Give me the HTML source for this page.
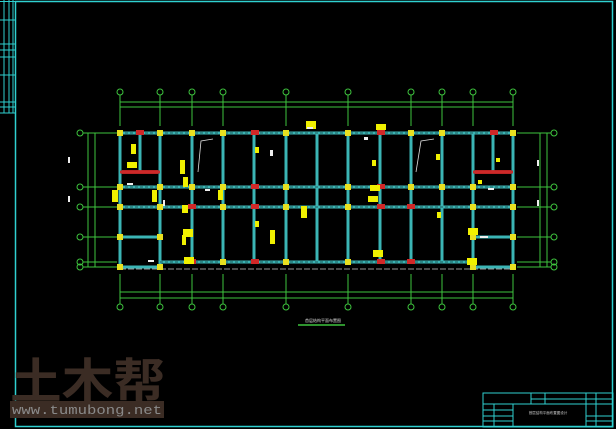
<!DOCTYPE html>
<html><head><meta charset="utf-8"><style>
html,body{margin:0;padding:0;background:#000;width:616px;height:429px;overflow:hidden}
svg{display:block}
</style></head><body>
<svg width="616" height="429" viewBox="0 0 616 429" xmlns="http://www.w3.org/2000/svg" font-family="Liberation Sans, Noto Sans CJK SC, sans-serif">
<rect width="616" height="429" fill="#000"/>
<!-- frame -->
<g stroke="#2fd0d0" fill="none">
<rect x="15.5" y="1.5" width="597" height="425" stroke-width="1.5"/>
<line x1="0" y1="1.5" x2="16" y2="1.5"/>
<line x1="4" y1="0" x2="4" y2="113"/><line x1="9" y1="0" x2="9" y2="113"/><line x1="13" y1="0" x2="13" y2="113"/>
<line x1="0" y1="20" x2="16" y2="20"/><line x1="0" y1="44" x2="16" y2="44"/><line x1="0" y1="50" x2="16" y2="50"/>
<line x1="0" y1="57" x2="16" y2="57"/><line x1="0" y1="75" x2="16" y2="75"/><line x1="0" y1="102" x2="16" y2="102"/>
<line x1="0" y1="107" x2="16" y2="107"/><line x1="0" y1="113" x2="16" y2="113"/>
<!-- title block -->
<rect x="483" y="393" width="130" height="34"/>
<line x1="483" y1="404" x2="613" y2="404"/>
<line x1="531" y1="393" x2="531" y2="404"/><line x1="545" y1="393" x2="545" y2="404"/>
<line x1="531" y1="399" x2="613" y2="399"/>
<line x1="586" y1="393" x2="586" y2="427"/><line x1="596" y1="393" x2="596" y2="427"/>
<line x1="494" y1="404" x2="494" y2="427"/><line x1="513" y1="404" x2="513" y2="427"/>
<line x1="483" y1="410" x2="513" y2="410"/><line x1="483" y1="416" x2="513" y2="416"/><line x1="483" y1="421" x2="513" y2="421"/>
<line x1="586" y1="416" x2="613" y2="416"/><line x1="586" y1="421" x2="613" y2="421"/>
</g>
<text x="548" y="414" font-size="3.5" fill="#ccc" text-anchor="middle">首层结构平面布置图设计</text>
<!-- watermark -->
<text x="10" y="398" font-size="48" font-weight="bold" fill="#3b2c24" font-family="Noto Sans CJK SC, sans-serif" textLength="155" lengthAdjust="spacingAndGlyphs">土木帮</text>
<rect x="10" y="401" width="154" height="17" fill="#3b2c24"/>
<text x="12" y="414" font-size="12.5" fill="#8a8a8a" font-family="Liberation Mono, monospace" textLength="150" lengthAdjust="spacingAndGlyphs">www.tumubong.net</text>
<!-- dimension lines -->
<g stroke="#3ec43e" stroke-width="1" fill="none">
<line x1="120" y1="102" x2="513" y2="102"/><line x1="120" y1="107" x2="513" y2="107"/>
<line x1="120" y1="292" x2="513" y2="292"/><line x1="120" y1="298" x2="513" y2="298"/>
<line x1="88" y1="133" x2="88" y2="267"/><line x1="95" y1="133" x2="95" y2="267"/>
<line x1="540" y1="133" x2="540" y2="267"/><line x1="547" y1="133" x2="547" y2="267"/>
<g>
<line x1="120" y1="95" x2="120" y2="126"/><line x1="160" y1="95" x2="160" y2="126"/><line x1="192" y1="95" x2="192" y2="126"/><line x1="223" y1="95" x2="223" y2="126"/><line x1="286" y1="95" x2="286" y2="126"/><line x1="348" y1="95" x2="348" y2="126"/><line x1="411" y1="95" x2="411" y2="126"/><line x1="442" y1="95" x2="442" y2="126"/><line x1="473" y1="95" x2="473" y2="126"/><line x1="513" y1="95" x2="513" y2="126"/>
<line x1="120" y1="274" x2="120" y2="304"/><line x1="160" y1="274" x2="160" y2="304"/><line x1="192" y1="274" x2="192" y2="304"/><line x1="223" y1="274" x2="223" y2="304"/><line x1="286" y1="274" x2="286" y2="304"/><line x1="348" y1="274" x2="348" y2="304"/><line x1="411" y1="274" x2="411" y2="304"/><line x1="442" y1="274" x2="442" y2="304"/><line x1="473" y1="274" x2="473" y2="304"/><line x1="513" y1="274" x2="513" y2="304"/>
<line x1="83" y1="133" x2="117" y2="133"/><line x1="83" y1="187" x2="117" y2="187"/><line x1="83" y1="207" x2="117" y2="207"/><line x1="83" y1="237" x2="117" y2="237"/><line x1="83" y1="262" x2="117" y2="262"/><line x1="83" y1="267" x2="117" y2="267"/>
<line x1="517" y1="133" x2="551" y2="133"/><line x1="517" y1="187" x2="551" y2="187"/><line x1="517" y1="207" x2="551" y2="207"/><line x1="517" y1="237" x2="551" y2="237"/><line x1="517" y1="262" x2="551" y2="262"/><line x1="517" y1="267" x2="551" y2="267"/>
</g>
<g stroke-width="1">
<circle cx="120" cy="92" r="3"/><circle cx="160" cy="92" r="3"/><circle cx="192" cy="92" r="3"/><circle cx="223" cy="92" r="3"/><circle cx="286" cy="92" r="3"/><circle cx="348" cy="92" r="3"/><circle cx="411" cy="92" r="3"/><circle cx="442" cy="92" r="3"/><circle cx="473" cy="92" r="3"/><circle cx="513" cy="92" r="3"/>
<circle cx="120" cy="307" r="3"/><circle cx="160" cy="307" r="3"/><circle cx="192" cy="307" r="3"/><circle cx="223" cy="307" r="3"/><circle cx="286" cy="307" r="3"/><circle cx="348" cy="307" r="3"/><circle cx="411" cy="307" r="3"/><circle cx="442" cy="307" r="3"/><circle cx="473" cy="307" r="3"/><circle cx="513" cy="307" r="3"/>
<circle cx="80" cy="133" r="3"/><circle cx="80" cy="187" r="3"/><circle cx="80" cy="207" r="3"/><circle cx="80" cy="237" r="3"/><circle cx="80" cy="262" r="3"/><circle cx="80" cy="267" r="3"/>
<circle cx="554" cy="133" r="3"/><circle cx="554" cy="187" r="3"/><circle cx="554" cy="207" r="3"/><circle cx="554" cy="237" r="3"/><circle cx="554" cy="262" r="3"/><circle cx="554" cy="267" r="3"/>
</g>
<line x1="298" y1="325" x2="345" y2="325" stroke-width="1.5"/>
</g>
<text x="305" y="322" font-size="4" fill="#ddd">首层结构平面布置图</text>
<!-- walls -->
<g stroke="#3bb5b5" stroke-width="3" fill="none">
<line x1="120" y1="133" x2="513" y2="133"/><line x1="120" y1="187" x2="513" y2="187"/><line x1="120" y1="207" x2="513" y2="207"/>
<line x1="160" y1="262" x2="473" y2="262"/>
<line x1="120" y1="237" x2="160" y2="237"/><line x1="473" y1="237" x2="513" y2="237"/>
<line x1="120" y1="267" x2="160" y2="267"/><line x1="473" y1="267" x2="513" y2="267"/>
<line x1="120" y1="133" x2="120" y2="267"/><line x1="160" y1="133" x2="160" y2="267"/><line x1="192" y1="133" x2="192" y2="262"/><line x1="223" y1="133" x2="223" y2="262"/><line x1="254" y1="133" x2="254" y2="262"/><line x1="286" y1="133" x2="286" y2="262"/><line x1="317" y1="133" x2="317" y2="262"/><line x1="348" y1="133" x2="348" y2="262"/><line x1="380" y1="133" x2="380" y2="262"/><line x1="411" y1="133" x2="411" y2="262"/><line x1="442" y1="133" x2="442" y2="262"/><line x1="473" y1="133" x2="473" y2="267"/><line x1="513" y1="133" x2="513" y2="267"/>
<line x1="140" y1="133" x2="140" y2="172"/><line x1="493" y1="133" x2="493" y2="172"/>
</g>
<g stroke="#000" stroke-width="0.6" stroke-dasharray="3 2" fill="none">
<line x1="120" y1="133" x2="513" y2="133"/><line x1="120" y1="187" x2="513" y2="187"/><line x1="120" y1="207" x2="513" y2="207"/><line x1="160" y1="262" x2="473" y2="262"/>
</g>
<line x1="120" y1="269" x2="513" y2="269" stroke="#999" stroke-width="1" stroke-dasharray="6 2"/>
<g stroke="#c03030" stroke-width="3"><line x1="120" y1="172" x2="160" y2="172"/><line x1="473" y1="172" x2="513" y2="172"/></g>
<polyline points="213,139 201,141 198,172" stroke="#ddd" fill="none" stroke-width="0.8"/>
<polyline points="434,139 421,141 416,172" stroke="#ddd" fill="none" stroke-width="0.8"/>
<!-- columns -->
<g fill="#e8e020">
<rect x="117" y="130" width="6" height="6"/><rect x="157" y="130" width="6" height="6"/><rect x="189" y="130" width="6" height="6"/><rect x="220" y="130" width="6" height="6"/><rect x="283" y="130" width="6" height="6"/><rect x="345" y="130" width="6" height="6"/><rect x="408" y="130" width="6" height="6"/><rect x="439" y="130" width="6" height="6"/><rect x="510" y="130" width="6" height="6"/>
<rect x="117" y="184" width="6" height="6"/><rect x="157" y="184" width="6" height="6"/><rect x="189" y="184" width="6" height="6"/><rect x="220" y="184" width="6" height="6"/><rect x="283" y="184" width="6" height="6"/><rect x="345" y="184" width="6" height="6"/><rect x="408" y="184" width="6" height="6"/><rect x="439" y="184" width="6" height="6"/><rect x="470" y="184" width="6" height="6"/><rect x="510" y="184" width="6" height="6"/>
<rect x="117" y="204" width="6" height="6"/><rect x="157" y="204" width="6" height="6"/><rect x="220" y="204" width="6" height="6"/><rect x="283" y="204" width="6" height="6"/><rect x="345" y="204" width="6" height="6"/><rect x="470" y="204" width="6" height="6"/><rect x="510" y="204" width="6" height="6"/>
<rect x="117" y="234" width="6" height="6"/><rect x="157" y="234" width="6" height="6"/><rect x="470" y="234" width="6" height="6"/><rect x="510" y="234" width="6" height="6"/>
<rect x="117" y="264" width="6" height="6"/><rect x="157" y="264" width="6" height="6"/><rect x="220" y="259" width="6" height="6"/><rect x="283" y="259" width="6" height="6"/><rect x="345" y="259" width="6" height="6"/><rect x="470" y="264" width="6" height="6"/><rect x="510" y="264" width="6" height="6"/>
</g>
<g fill="#d02828">
<rect x="136" y="130" width="8" height="5"/><rect x="251" y="130" width="8" height="5"/><rect x="377" y="130" width="8" height="5"/><rect x="490" y="130" width="8" height="5"/>
<rect x="251" y="184" width="8" height="5"/><rect x="377" y="184" width="8" height="5"/>
<rect x="188" y="204" width="8" height="5"/><rect x="251" y="204" width="8" height="5"/><rect x="377" y="204" width="8" height="5"/><rect x="407" y="204" width="8" height="5"/>
<rect x="188" y="259" width="8" height="5"/><rect x="251" y="259" width="8" height="5"/><rect x="377" y="259" width="8" height="5"/><rect x="407" y="259" width="8" height="5"/>
<rect x="122" y="170" width="36" height="4" opacity="0.8"/><rect x="475" y="170" width="36" height="4" opacity="0.8"/>
</g>
<!-- flags / labels -->
<g fill="#f0f000">
<rect x="131" y="144" width="5" height="10"/><rect x="127" y="162" width="10" height="6"/><rect x="180" y="160" width="5" height="14"/><rect x="183" y="177" width="5" height="10"/><rect x="112" y="190" width="6" height="12"/><rect x="152" y="190" width="5" height="12"/><rect x="182" y="205" width="6" height="8"/>
<rect x="183" y="229" width="10" height="8"/><rect x="184" y="257" width="10" height="7"/><rect x="182" y="235" width="4" height="10"/>
<rect x="270" y="230" width="5" height="14"/><rect x="306" y="121" width="10" height="8"/><rect x="301" y="206" width="6" height="12"/><rect x="218" y="190" width="5" height="10"/>
<rect x="376" y="124" width="10" height="6"/><rect x="368" y="196" width="10" height="6"/><rect x="370" y="185" width="10" height="6"/><rect x="373" y="250" width="10" height="7"/><rect x="372" y="160" width="4" height="6"/><rect x="436" y="154" width="4" height="6"/>
<rect x="468" y="228" width="10" height="7"/><rect x="467" y="258" width="10" height="7"/><rect x="496" y="158" width="4" height="4"/><rect x="478" y="180" width="4" height="4"/>
<rect x="255" y="147" width="4" height="6"/><rect x="255" y="221" width="4" height="6"/><rect x="437" y="212" width="4" height="6"/>
</g>
<g fill="#eee">
<rect x="127" y="183" width="6" height="2"/><rect x="205" y="189" width="5" height="2"/><rect x="270" y="150" width="3" height="6"/><rect x="364" y="137" width="4" height="3"/><rect x="307" y="127" width="6" height="2"/><rect x="488" y="188" width="6" height="2"/><rect x="163" y="200" width="2" height="6"/><rect x="480" y="236" width="8" height="2"/><rect x="148" y="260" width="6" height="2"/><rect x="68" y="157" width="2" height="6"/><rect x="68" y="196" width="2" height="6"/><rect x="537" y="160" width="2" height="6"/><rect x="537" y="200" width="2" height="6"/>
</g>
</svg>
</body></html>
